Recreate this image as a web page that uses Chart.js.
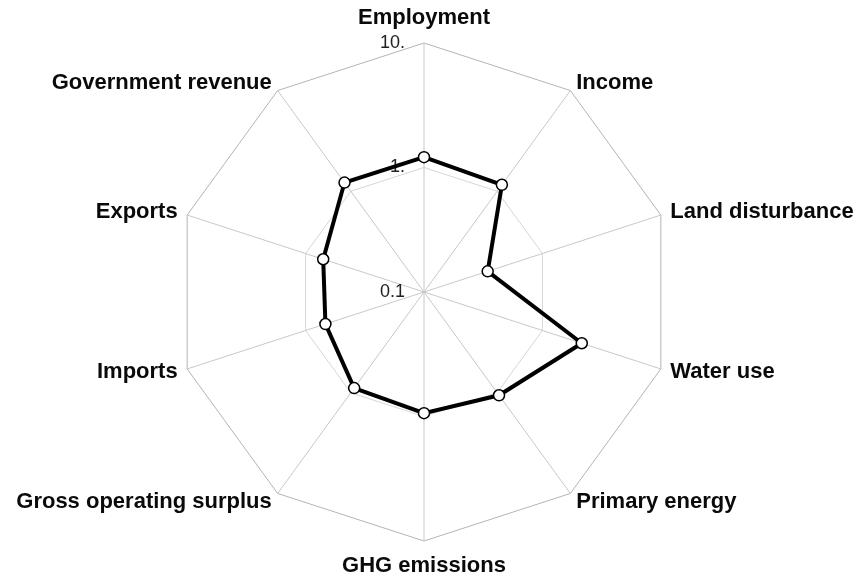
<!DOCTYPE html>
<html>
<head>
<meta charset="utf-8">
<script src="https://cdn.jsdelivr.net/npm/chart.js@4/dist/chart.umd.min.js"></script>
<style>
  body { margin: 0; background: #fff; }
</style>
</head>
<body>
<canvas id="radar" width="858" height="580"></canvas>
<script>
// axes, clockwise from the top
const categories = ['Employment', 'Income', 'Land disturbance', 'Water use', 'Primary energy',
  'GHG emissions', 'Gross operating surplus', 'Imports', 'Exports', 'Government revenue'];
// values (0.1 .. 10)
const values = [1.21, 1.16, 0.345, 2.15, 1.06, 0.94, 0.90, 0.68, 0.71, 1.22];
const tickValues = [0.1, 1, 10];
const tickLabels = ['0.1', '1.', '10.'];

const FONT = '"Liberation Sans", Arial, Helvetica, sans-serif';

// radar scales are linear only, so plot log10 of each value
const logValues = values.map(v => Math.log10(v));

const axisText = {
  id: 'axisText',
  beforeDatasetsDraw(chart) {
    const scale = chart.scales.r;
    const c = chart.ctx;
    c.save();
    c.font = '18px ' + FONT;
    c.fillStyle = '#222';
    c.textAlign = 'right';
    c.textBaseline = 'middle';
    tickValues.forEach((v, i) => {
      const d = scale.getDistanceFromCenterForValue(Math.log10(v));
      c.fillText(tickLabels[i], scale.xCenter - 19, scale.yCenter - d);
    });
    c.restore();
  },
  afterDraw(chart) {
    const scale = chart.scales.r;
    const c = chart.ctx;
    const half = categories.length / 2;
    c.save();
    c.font = 'bold 22px ' + FONT;
    c.fillStyle = '#0a0a0a';
    categories.forEach((name, i) => {
      const isTop = i === 0, isBottom = i === half;
      const p = scale.getPointPosition(i, scale.drawingArea + (isTop || isBottom ? 14 : 10));
      if (isTop) {
        c.textAlign = 'center'; c.textBaseline = 'bottom';
      } else if (isBottom) {
        c.textAlign = 'center'; c.textBaseline = 'top';
      } else {
        c.textAlign = i < half ? 'left' : 'right';
        c.textBaseline = 'middle';
      }
      c.fillText(name, p.x, p.y);
    });
    c.restore();
  }
};

new Chart(document.getElementById('radar'), {
  type: 'radar',
  data: {
    labels: categories,
    datasets: [{
      data: logValues,
      borderColor: '#000',
      borderWidth: 4,
      backgroundColor: 'rgba(0,0,0,0)',
      fill: false,
      pointRadius: 5.5,
      pointBorderWidth: 1.5,
      pointBackgroundColor: '#fff',
      pointBorderColor: '#000'
    }]
  },
  options: {
    responsive: false,
    animation: false,
    layout: { padding: { left: 175, right: 185, top: 43, bottom: 39 } },
    scales: {
      r: {
        min: -1,
        max: 1,
        ticks: { stepSize: 1, display: false },
        pointLabels: { display: false },
        grid: {
          color: ctx => (ctx.tick && ctx.tick.value === 1) ? '#b4b4b4' : '#d6d6d6',
          lineWidth: 1
        },
        angleLines: { color: '#c8c8c8', lineWidth: 1 }
      }
    },
    plugins: {
      legend: { display: false },
      tooltip: { enabled: false }
    }
  },
  plugins: [axisText]
});
</script>
</body>
</html>
